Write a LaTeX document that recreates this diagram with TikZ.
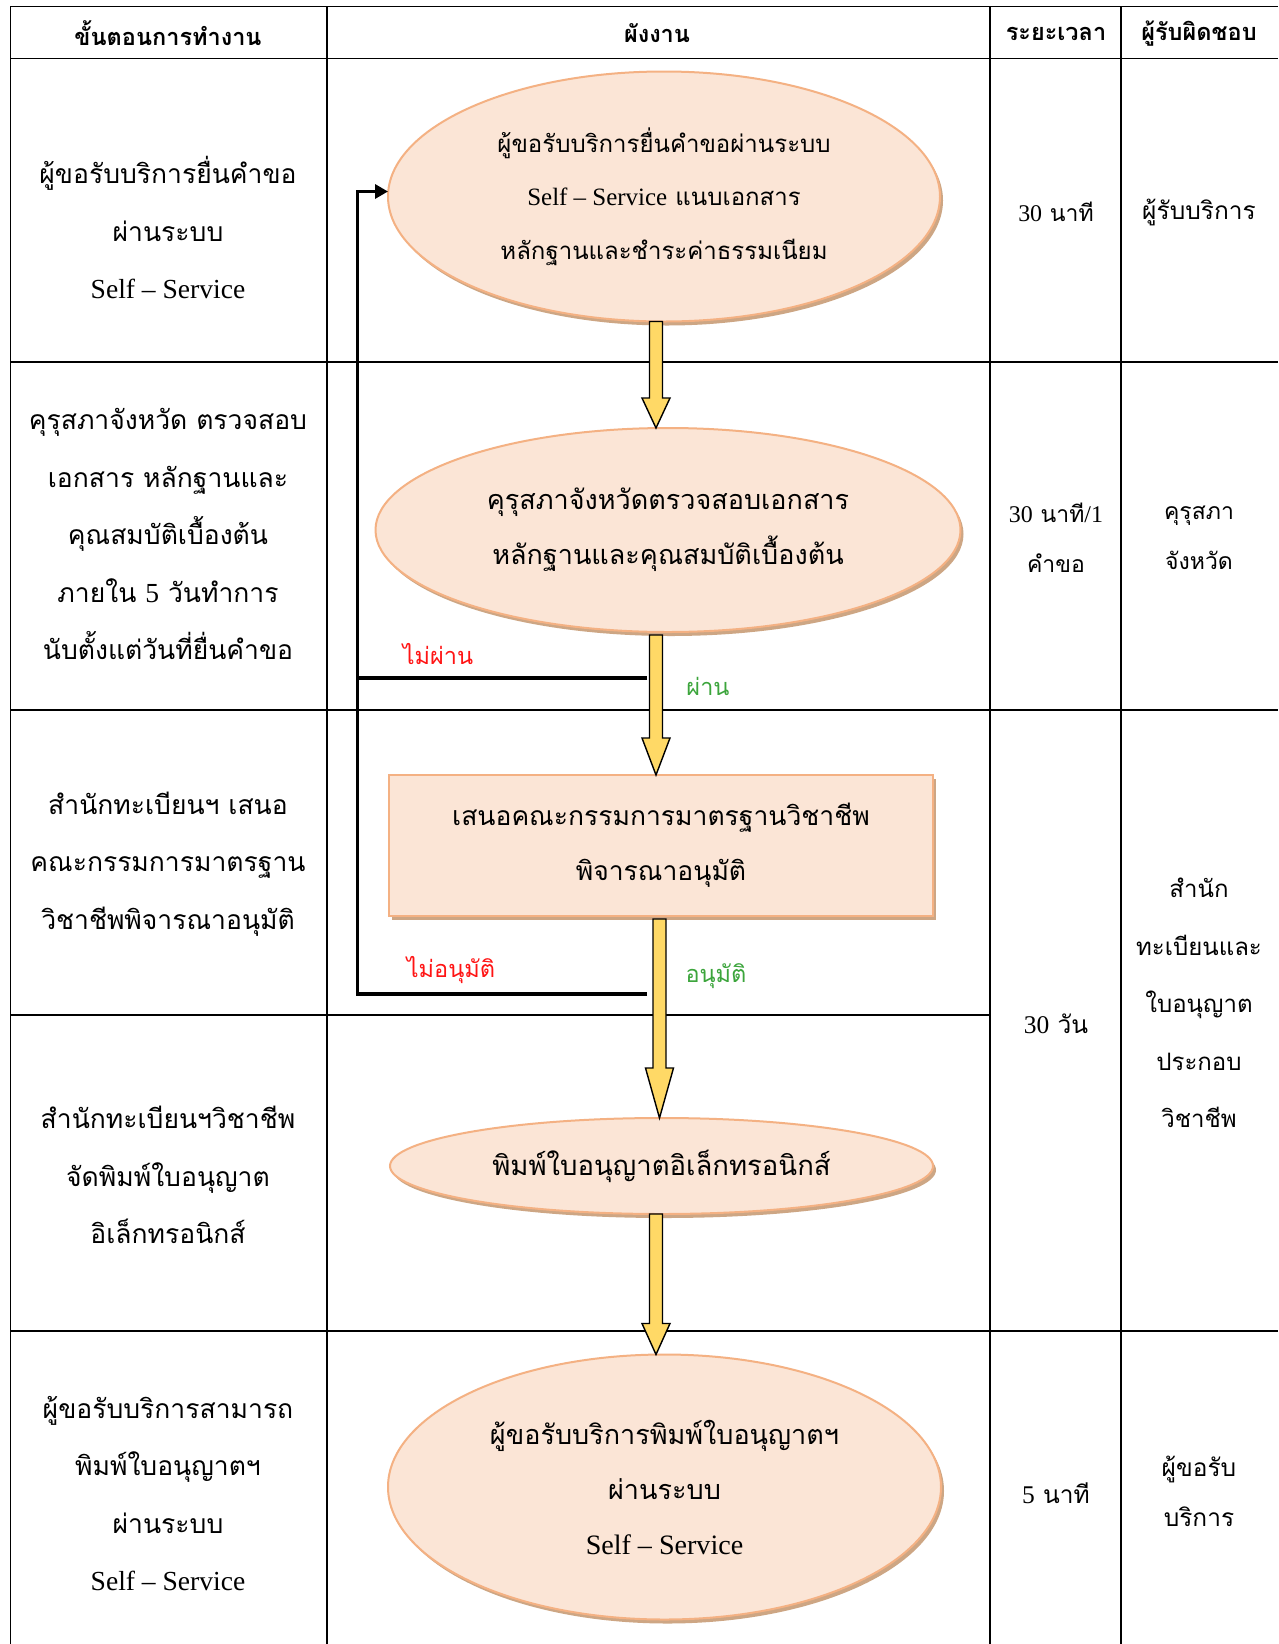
\documentclass[tikz,border=0pt]{standalone}
\usepackage{fontspec}
\usetikzlibrary{shapes.geometric,shadows,calc,arrows.meta}
\newfontfamily\thaiserif[Script=Thai]{Loma}
\newfontfamily\thaisans[Script=Thai]{Loma}
\newfontfamily\latinserif[Scale=1.04]{Liberation Serif}
\newcommand\lat[1]{{\latinserif #1}}
\definecolor{peach}{RGB}{251,229,214}
\definecolor{peachline}{RGB}{244,177,131}
\definecolor{shadowc}{RGB}{205,166,132}
\definecolor{yel}{RGB}{255,217,102}
\definecolor{redlab}{RGB}{255,20,20}
\definecolor{greenlab}{RGB}{60,165,60}
\newcommand\yarrow[5]{% x, from, to, headlen, start gap
  \draw[yarrowst] let \p1=(#2.south), \p2=(#3.north) in
  ({#1pt-6.5pt},{\y1-#5pt}) -- ({#1pt+6.5pt},{\y1-#5pt}) -- ({#1pt+6.5pt},{\y2+#4pt}) --
  ({#1pt+14pt},{\y2+#4pt}) -- ({#1pt},\y2) -- ({#1pt-14pt},{\y2+#4pt}) --
  ({#1pt-6.5pt},{\y2+#4pt}) -- cycle;}
\begin{document}
\begin{tikzpicture}[x=1pt,y=-1pt,
  grid/.style={line width=1.3pt,black},
  cell/.style={align=center,inner sep=0,font=\thaiserif\fontsize{26.5}{57.5}\selectfont},
  cellsm/.style={align=center,inner sep=0,font=\thaiserif\fontsize{23}{50}\selectfont},
  cellmd/.style={align=center,inner sep=0,font=\thaiserif\fontsize{24.5}{50}\selectfont},
  hdr/.style={inner sep=0,font=\thaisans\bfseries\fontsize{23.5}{26}\selectfont},
  lab/.style={inner sep=0,font=\thaisans\fontsize{23.5}{26}\selectfont},
  shape shadow/.style={drop shadow={shadow xshift=3pt,shadow yshift=-4pt,fill=shadowc,opacity=1}},
  proc/.style={ellipse,draw=peachline,fill=peach,line width=2pt,inner sep=0,outer sep=0,
     align=center,shape shadow,font=\thaiserif\fontsize{27}{55}\selectfont},
  procbox/.style={rectangle,draw=peachline,fill=peach,line width=2pt,inner sep=0,outer sep=0,
     align=center,shape shadow,font=\thaiserif\fontsize{26.5}{55}\selectfont},
  yarrowst/.style={fill=yel,draw=black,line width=1.4pt,line join=miter},
  fb/.style={line width=3.5pt,black},
]
\useasboundingbox (0,0) rectangle (1278,1644);
\fill[white] (0,0) rectangle (1278,1644);
% table
\foreach \yy in {6.3,58.7,362,710,1331} \draw[grid] (10.5,\yy) -- (1278,\yy);
\draw[grid] (10.5,1015) -- (990,1015);
\foreach \xx in {10.5,327,990,1121} \draw[grid] (\xx,6.3) -- (\xx,1644);
% headers
\node[hdr] (h1) at (168,33.5) {ขั้นตอนการทำงาน};
\node[hdr] (h2) at (657,33.5) {ผังงาน};
\node[hdr] (h3) at (1056,33.5) {ระยะเวลา};
\node[hdr] (h4) at (1199,33.5) {ผู้รับผิดชอบ};
% column 1
\node[cell] (s1) at (168,228) {ผู้ขอรับบริการยื่นคำขอ\\ผ่านระบบ\\\lat{Self – Service}};
\node[cell] (s2) at (168,534) {คุรุสภาจังหวัด ตรวจสอบ\\เอกสาร หลักฐานและ\\คุณสมบัติเบื้องต้น\\ภายใน \lat{5} วันทำการ\\นับตั้งแต่วันที่ยื่นคำขอ};
\node[cell] (s3) at (168,864) {สำนักทะเบียนฯ เสนอ\\คณะกรรมการมาตรฐาน\\วิชาชีพพิจารณาอนุมัติ};
\node[cell] (s4) at (168,1175) {สำนักทะเบียนฯวิชาชีพ\\จัดพิมพ์ใบอนุญาต\\อิเล็กทรอนิกส์};
\node[cell] (s5) at (168,1493.5) {ผู้ขอรับบริการสามารถ\\พิมพ์ใบอนุญาตฯ\\ผ่านระบบ\\\lat{Self – Service}};
% column 3
\node[cellsm] (t1) at (1056,212) {\lat{30} นาที};
\node[cellsm] (t2) at (1056,538) {\lat{30} นาที\lat{/1}\\คำขอ};
\node[cellmd] (t3) at (1056,1024) {\lat{30} วัน};
\node[cellmd] (t4) at (1056,1493) {\lat{5} นาที};
% column 4
\node[cellmd] (r1) at (1199,212) {ผู้รับบริการ};
\node[cellsm] (r2) at (1199,538) {คุรุสภา\\จังหวัด};
\node[cell,font=\thaiserif\fontsize{24}{57.5}\selectfont] (r3) at (1199,1003) {สำนัก\\ทะเบียนและ\\ใบอนุญาต\\ประกอบ\\วิชาชีพ};
\node[cellmd] (r4) at (1199,1491.5) {ผู้ขอรับ\\บริการ};
% flowchart
\node[proc,font=\thaiserif\fontsize{24}{53.5}\selectfont,minimum width=552pt,minimum height=250pt] (e1) at (664,196.5) {ผู้ขอรับบริการยื่นคำขอผ่านระบบ\\\lat{Self – Service} แนบเอกสาร\\หลักฐานและชำระค่าธรรมเนียม};
\node[proc,minimum width=585pt,minimum height=204pt] (e2) at (668,530) {คุรุสภาจังหวัดตรวจสอบเอกสาร\\หลักฐานและคุณสมบัติเบื้องต้น};
\node[procbox,minimum width=544pt,minimum height=141pt] (b1) at (661,845.5) {เสนอคณะกรรมการมาตรฐานวิชาชีพ\\พิจารณาอนุมัติ};
\node[proc,font=\thaiserif\fontsize{27.5}{55}\selectfont,minimum width=543pt,minimum height=96pt] (e3) at (661.5,1166) {พิมพ์ใบอนุญาตอิเล็กทรอนิกส์};
\node[proc,minimum width=553pt,minimum height=265pt] (e4) at (664.5,1487) {ผู้ขอรับบริการพิมพ์ใบอนุญาตฯ\\ผ่านระบบ\\\lat{Self – Service}};
% yellow arrows
\yarrow{656}{e1}{e2}{30}{0}
\yarrow{656}{e2}{b1}{37}{3}
\yarrow{659.5}{b1}{e3}{50}{3}
\yarrow{656}{e3}{e4}{31}{0}
% feedback
\coordinate (nf) at (647,678);
\coordinate (na) at (647,994);
\coordinate (bend) at (357.5,994);
\coordinate (entry) at ($(e1.west)+(0,-5)$);
\draw[fb,-{Triangle[length=13pt,width=14pt]}] (na) -- (bend) |- (entry);
\draw[fb] (nf) -- (nf -| bend);
\node[lab,text=redlab] (l1) at (438,654) {ไม่ผ่าน};
\node[lab,text=greenlab] (l2) at (708,686) {ผ่าน};
\node[lab,text=redlab] (l3) at (451,970) {ไม่อนุมัติ};
\node[lab,text=greenlab] (l4) at (716,976) {อนุมัติ};
\end{tikzpicture}
\end{document}
